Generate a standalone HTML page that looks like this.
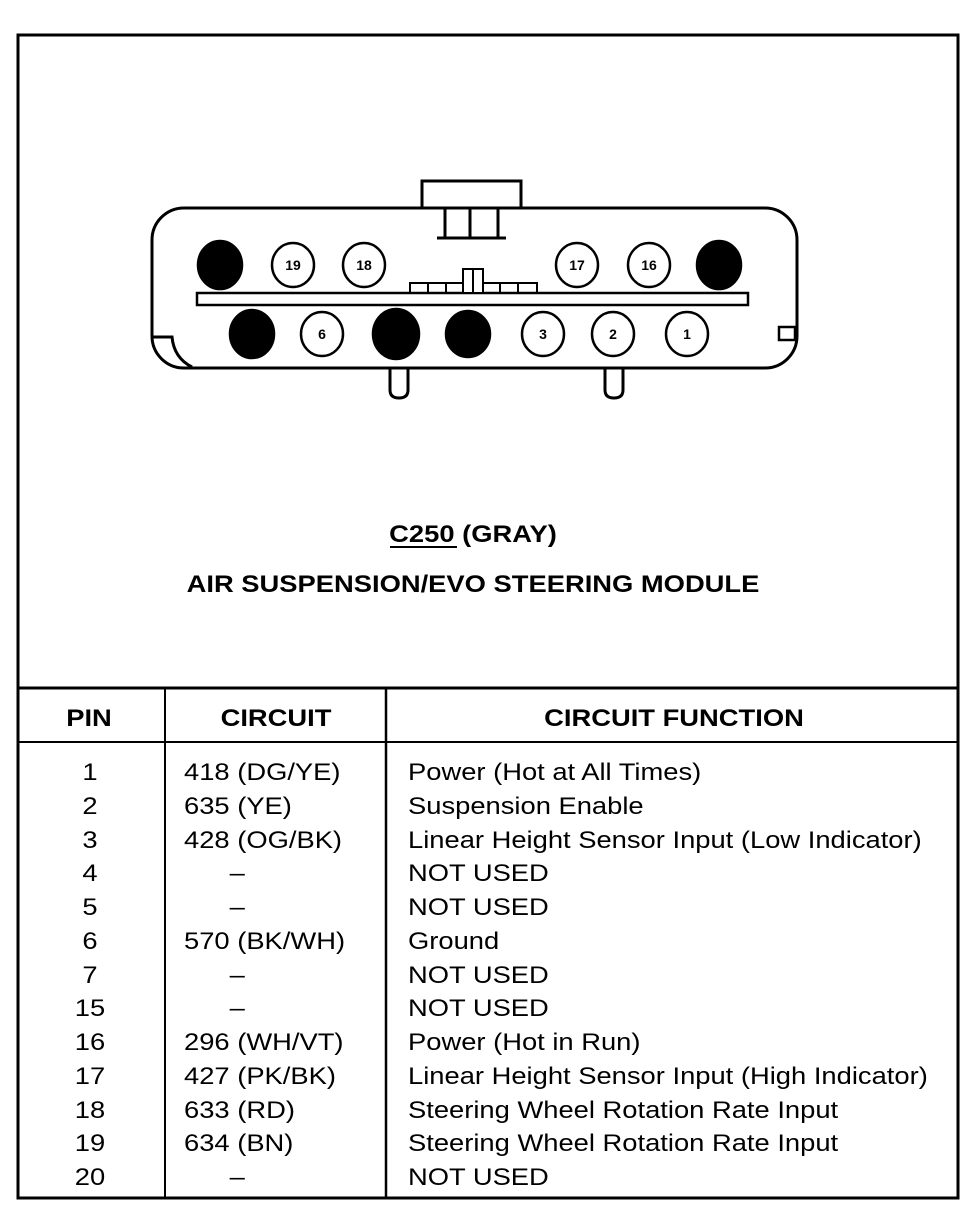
<!DOCTYPE html>
<html><head><style>
html,body{margin:0;padding:0;background:#fff;}
svg{display:block;}
text{font-family:"Liberation Sans",Arial,sans-serif;fill:#000;}
</style></head><body>
<svg width="972" height="1216" viewBox="0 0 972 1216" xmlns="http://www.w3.org/2000/svg">
<rect x="18" y="35" width="940" height="1163" fill="none" stroke="#000" stroke-width="3"/>
<g fill="none" stroke="#000" stroke-width="3">
<rect x="422" y="181" width="99" height="27" fill="#fff"/>
<rect x="152" y="208" width="645" height="160" rx="32" fill="#fff"/>
<line x1="445" y1="208" x2="445" y2="238"/>
<line x1="470" y1="208" x2="470" y2="238"/>
<line x1="498" y1="208" x2="498" y2="238"/>
<line x1="437" y1="238" x2="506" y2="238"/>
<rect x="197" y="293" width="551" height="12" stroke-width="2.5"/>
<rect x="410" y="283" width="127" height="10" stroke-width="2"/>
<line x1="428" y1="283" x2="428" y2="293" stroke-width="2"/>
<line x1="446" y1="283" x2="446" y2="293" stroke-width="2"/>
<line x1="500" y1="283" x2="500" y2="293" stroke-width="2"/>
<line x1="518" y1="283" x2="518" y2="293" stroke-width="2"/>
<rect x="463" y="269" width="20" height="24" fill="#fff" stroke-width="2"/>
<line x1="473" y1="269" x2="473" y2="293" stroke-width="2"/>
<path d="M153 337 H172 Q174 358 192 367"/>
<rect x="779" y="327" width="16" height="13" stroke-width="2.5"/>
<path d="M390 368 V390 Q390 398 399 398 Q408 398 408 390 V368"/>
<path d="M605 368 V390 Q605 398 614 398 Q623 398 623 390 V368"/>
</g>
<g stroke="#000" stroke-width="2.5">
<ellipse cx="220" cy="265" rx="22" ry="24" fill="#000"/>
<ellipse cx="293" cy="265" rx="21" ry="22" fill="#fff"/>
<ellipse cx="364" cy="265" rx="21" ry="22" fill="#fff"/>
<ellipse cx="577" cy="265" rx="21" ry="22" fill="#fff"/>
<ellipse cx="649" cy="265" rx="21" ry="22" fill="#fff"/>
<ellipse cx="719" cy="265" rx="22" ry="24" fill="#000"/>
<ellipse cx="252" cy="334" rx="22" ry="24" fill="#000"/>
<ellipse cx="322" cy="334" rx="21" ry="22" fill="#fff"/>
<ellipse cx="396" cy="334" rx="23" ry="25" fill="#000"/>
<ellipse cx="468" cy="334" rx="22" ry="23" fill="#000"/>
<ellipse cx="543" cy="334" rx="21" ry="22" fill="#fff"/>
<ellipse cx="613" cy="334" rx="21" ry="22" fill="#fff"/>
<ellipse cx="687" cy="334" rx="21" ry="22" fill="#fff"/>
</g>
<g font-size="14" font-weight="bold" text-anchor="middle">
<text x="293" y="270">19</text><text x="364" y="270">18</text>
<text x="577" y="270">17</text><text x="649" y="270">16</text>
<text x="322" y="339">6</text><text x="543" y="339">3</text>
<text x="613" y="339">2</text><text x="687" y="339">1</text>
</g>
<g font-size="24" font-weight="bold" text-anchor="middle">
<text transform="translate(473 542) scale(1.14 1)">C250 (GRAY)</text>
<text transform="translate(473 592) scale(1.14 1)">AIR SUSPENSION/EVO STEERING MODULE</text>
</g>
<line x1="390" y1="547" x2="457" y2="547" stroke="#000" stroke-width="2"/>
<g stroke="#000" stroke-width="3">
<line x1="18" y1="688" x2="958" y2="688"/>
<line x1="18" y1="742" x2="958" y2="742" stroke-width="2"/>
<line x1="165" y1="688" x2="165" y2="1198" stroke-width="2"/>
<line x1="386" y1="688" x2="386" y2="1198" stroke-width="2.5"/>
</g>
<g font-size="24" font-weight="bold" text-anchor="middle">
<text transform="translate(89 726) scale(1.14 1)">PIN</text>
<text transform="translate(276 726) scale(1.14 1)">CIRCUIT</text>
<text transform="translate(674 726) scale(1.14 1)">CIRCUIT FUNCTION</text>
</g>
<g font-size="24">
<g transform="translate(90 0) scale(1.14 1)" text-anchor="middle">
<text x="0" y="780">1</text><text x="0" y="814">2</text><text x="0" y="848">3</text>
<text x="0" y="881">4</text><text x="0" y="915">5</text><text x="0" y="949">6</text>
<text x="0" y="983">7</text><text x="0" y="1016">15</text><text x="0" y="1050">16</text>
<text x="0" y="1084">17</text><text x="0" y="1118">18</text><text x="0" y="1151">19</text>
<text x="0" y="1185">20</text>
</g>
<g transform="translate(184 0) scale(1.14 1)">
<text x="0" y="780">418 (DG/YE)</text>
<text x="0" y="814">635 (YE)</text>
<text x="0" y="848">428 (OG/BK)</text>
<text x="40" y="881">–</text>
<text x="40" y="915">–</text>
<text x="0" y="949">570 (BK/WH)</text>
<text x="40" y="983">–</text>
<text x="40" y="1016">–</text>
<text x="0" y="1050">296 (WH/VT)</text>
<text x="0" y="1084">427 (PK/BK)</text>
<text x="0" y="1118">633 (RD)</text>
<text x="0" y="1151">634 (BN)</text>
<text x="40" y="1185">–</text>
</g>
<g transform="translate(408 0) scale(1.14 1)">
<text x="0" y="780">Power (Hot at All Times)</text>
<text x="0" y="814">Suspension Enable</text>
<text x="0" y="848">Linear Height Sensor Input (Low Indicator)</text>
<text x="0" y="881">NOT USED</text>
<text x="0" y="915">NOT USED</text>
<text x="0" y="949">Ground</text>
<text x="0" y="983">NOT USED</text>
<text x="0" y="1016">NOT USED</text>
<text x="0" y="1050">Power (Hot in Run)</text>
<text x="0" y="1084">Linear Height Sensor Input (High Indicator)</text>
<text x="0" y="1118">Steering Wheel Rotation Rate Input</text>
<text x="0" y="1151">Steering Wheel Rotation Rate Input</text>
<text x="0" y="1185">NOT USED</text>
</g>
</g>
</svg>
</body></html>
